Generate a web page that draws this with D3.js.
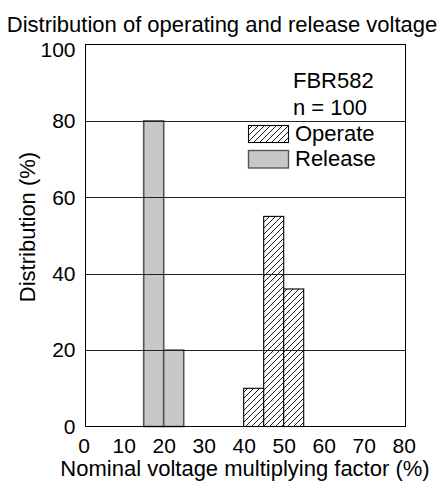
<!DOCTYPE html>
<html><head><meta charset="utf-8">
<script src="https://cdn.jsdelivr.net/npm/d3@7"></script>
<style>
body{margin:0;background:#fff}
svg{display:block}
text{font-family:"Liberation Sans",Arial,Helvetica,sans-serif;fill:#000}
</style>
</head><body>
<svg id="c" width="441" height="485"></svg>
<script>
// ---- data ----
const chartTitle = "Distribution of operating and release voltage";
const xTitle = "Nominal voltage multiplying factor (%)";
const yTitle = "Distribution (%)";
const modelName = "FBR582";
const sampleText = "n = 100";
const seriesNames = ["Operate", "Release"];
const releaseBins = [15, 20];
const releaseValues = [80, 20];
const operateBins = [40, 45, 50];
const operateValues = [10, 55, 36];
const binWidth = 5;
const xTicks = [0, 10, 20, 30, 40, 50, 60, 70, 80];
const yTicks = [0, 20, 40, 60, 80, 100];
const gridValues = [20, 40, 60, 80];

// ---- layout ----
const L = 85.5, R = 405.5, T = 44.5, B = 426.5;
const svg = d3.select("#c");
const FS = 21, FT = 22;

const x = d3.scaleLinear().domain([0, 80]).range([L - 1.8, R - 1.8]);
const y = d3.scaleLinear().domain([0, 100]).range([B, T]);

const defs = svg.append("defs");
const pat = defs.append("pattern").attr("id", "hatch")
  .attr("patternUnits", "userSpaceOnUse").attr("width", 6).attr("height", 6);
pat.append("rect").attr("width", 6).attr("height", 6).attr("fill", "#fff");
pat.append("path").attr("d", "M-1,1 l2,-2 M0,6 l6,-6 M5,7 l2,-2")
  .attr("stroke", "#000").attr("stroke-width", 0.9);

// title
svg.append("text").attr("x", 222).attr("y", 31.5).attr("text-anchor", "middle")
  .attr("font-size", FT).text(chartTitle);

// release bars
const release = releaseBins.map((b, i) => ({b, v: releaseValues[i]}));
svg.append("g").selectAll("rect").data(release).join("rect")
  .attr("x", d => x(d.b)).attr("width", d => x(d.b + binWidth) - x(d.b))
  .attr("y", d => y(d.v)).attr("height", d => y(0) - y(d.v))
  .attr("fill", "#c8c8c8").attr("stroke", "#555").attr("stroke-width", 1.6);

// operate bars
const operate = operateBins.map((b, i) => ({b, v: operateValues[i]}));
svg.append("g").selectAll("rect").data(operate).join("rect")
  .attr("x", d => x(d.b)).attr("width", d => x(d.b + binWidth) - x(d.b))
  .attr("y", d => y(d.v)).attr("height", d => y(0) - y(d.v))
  .attr("fill", "url(#hatch)").attr("stroke", "#000").attr("stroke-width", 1.1);

// grid lines on top
svg.append("g").selectAll("line").data(gridValues).join("line")
  .attr("x1", L).attr("x2", R)
  .attr("y1", d => Math.round(y(d)) + 0.5).attr("y2", d => Math.round(y(d)) + 0.5)
  .attr("stroke", "#222").attr("stroke-width", 1);

// frame
svg.append("rect").attr("x", L).attr("y", T).attr("width", R - L).attr("height", B - T)
  .attr("fill", "none").attr("stroke", "#000").attr("stroke-width", 1);

// axes
const ya = svg.append("g").attr("transform", `translate(${L},0)`)
  .call(d3.axisLeft(y).tickValues(yTicks).tickSize(0).tickPadding(10));
ya.select(".domain").remove();
ya.selectAll("text").attr("font-size", FS).attr("font-family", null)
  .attr("dy", d => d === 100 ? "11.5px" : "0.32em");

const xa = svg.append("g").attr("transform", `translate(0,${B})`)
  .call(d3.axisBottom(x).tickValues(xTicks).tickSize(0).tickPadding(12));
xa.select(".domain").remove();
xa.selectAll("text").attr("font-size", FS).attr("font-family", null);

// axis titles
svg.append("text").attr("x", 245).attr("y", 476).attr("text-anchor", "middle")
  .attr("font-size", FT).text(xTitle);
svg.append("text").attr("transform", "translate(35,227) rotate(-90)")
  .attr("text-anchor", "middle").attr("font-size", FT).text(yTitle);

// legend
svg.append("text").attr("x", 293).attr("y", 88).attr("font-size", FT).text(modelName);
svg.append("text").attr("x", 293).attr("y", 115).attr("font-size", FT).text(sampleText);
const lg = svg.append("g");
lg.append("rect").attr("x", 248.5).attr("y", 125.5).attr("width", 40).attr("height", 17)
  .attr("fill", "url(#hatch)").attr("stroke", "#000").attr("stroke-width", 1.1);
lg.append("rect").attr("x", 248.5).attr("y", 150.5).attr("width", 40).attr("height", 17.5)
  .attr("fill", "#c8c8c8").attr("stroke", "#555").attr("stroke-width", 1.4);
lg.append("text").attr("x", 295).attr("y", 141).attr("font-size", FT).text(seriesNames[0]);
lg.append("text").attr("x", 295).attr("y", 166).attr("font-size", FT).text(seriesNames[1]);
</script>
</body></html>
